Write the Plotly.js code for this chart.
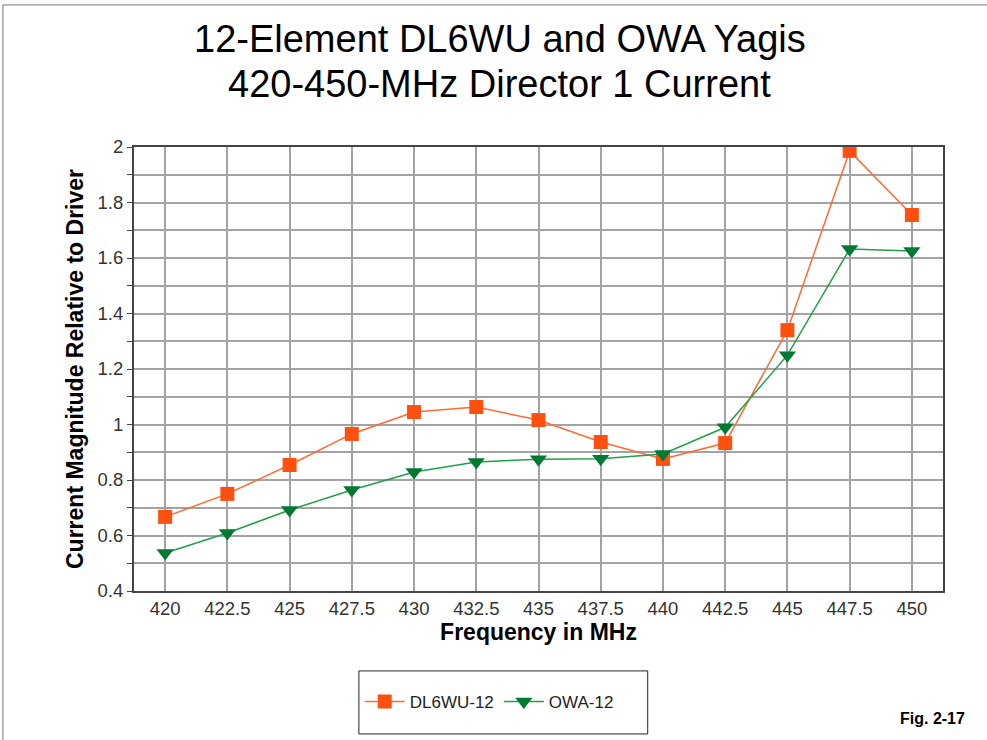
<!DOCTYPE html>
<html>
<head>
<meta charset="utf-8">
<script src="https://cdn.plot.ly/plotly-3.0.1.min.js"></script>
<style>
  body { margin: 0; background: #fff; }
  #chart { width: 987px; height: 740px; }
</style>
</head>
<body>
<div id="chart"></div>
<script>
var freqs = [420, 422.5, 425, 427.5, 430, 432.5, 435, 437.5, 440, 442.5, 445, 447.5, 450];
var dl6wu = [0.667, 0.75, 0.854, 0.966, 1.045, 1.063, 1.016, 0.937, 0.876, 0.933, 1.34, 1.986, 1.755];
var owa = [0.537, 0.609, 0.692, 0.764, 0.829, 0.865, 0.875, 0.877, 0.894, 0.99, 1.25, 1.632, 1.625];
var yTicks = [0.4, 0.6, 0.8, 1, 1.2, 1.4, 1.6, 1.8, 2];
var titleLines = ['12-Element DL6WU and OWA Yagis', '420-450-MHz Director 1 Current'];

var traces = [
  {
    x: freqs, y: dl6wu, name: 'DL6WU-12',
    type: 'scatter', mode: 'lines+markers',
    line: { color: '#ff6a33', width: 1.5 },
    marker: { symbol: 'square', size: 14, color: '#ff5010' }
  },
  {
    x: freqs, y: owa, name: 'OWA-12',
    type: 'scatter', mode: 'lines+markers',
    line: { color: '#21a04a', width: 1.5 },
    marker: { symbol: 'triangle-down', size: 15, color: '#007a33' }
  }
];

var layout = {
  width: 987,
  height: 740,
  paper_bgcolor: '#fff',
  plot_bgcolor: '#fff',
  margin: { l: 134, r: 44, t: 147, b: 149 },
  font: { family: 'Arial, Liberation Sans, sans-serif', color: '#000' },
  xaxis: {
    range: [418.75, 451.25],
    tickvals: freqs,
    ticktext: freqs.map(String),
    showgrid: true, gridcolor: '#a3a3a3', gridwidth: 1.5,
    showline: true, linecolor: '#444', linewidth: 2, mirror: true,
    zeroline: false,
    ticks: '',
    tickfont: { size: 18.5, color: '#333' },
    title: { text: '<b>Frequency in MHz</b>', font: { size: 23 }, standoff: 5 }
  },
  yaxis: {
    range: [0.4, 2],
    tickvals: yTicks,
    ticktext: yTicks.map(String),
    showgrid: true, gridcolor: '#a3a3a3', gridwidth: 1.5,
    showline: true, linecolor: '#444', linewidth: 2, mirror: true,
    zeroline: false,
    ticks: 'outside', ticklen: 5, tickcolor: '#444',
    tickfont: { size: 18.5, color: '#333' },
    minor: { dtick: 0.1, showgrid: true, gridcolor: '#a3a3a3', gridwidth: 1.5, ticks: 'outside', ticklen: 5, tickcolor: '#444' },
    title: { text: '<b>Current Magnitude Relative to Driver</b>', font: { size: 23 }, standoff: 8 }
  },
  showlegend: true,
  legend: {
    orientation: 'h',
    x: 0.279, xanchor: 'left',
    y: -0.25, yanchor: 'middle',
    borderwidth: 0,
    bgcolor: 'rgba(0,0,0,0)',
    font: { size: 17, color: '#222' },
    itemwidth: 40
  },
  shapes: [
    {
      type: 'rect', xref: 'paper', yref: 'paper',
      x0: -0.162, x1: 1.2, y0: -0.5, y1: 1.32,
      line: { color: '#777', width: 1 }, layer: 'below'
    },
    {
      type: 'rect', xref: 'paper', yref: 'paper',
      x0: 0.278, x1: 0.635, y0: -0.322, y1: -0.180,
      line: { color: '#222', width: 1 }, layer: 'below'
    }
  ],
  annotations: [
    {
      xref: 'paper', yref: 'paper',
      x: 0.452, y: 1.243, xanchor: 'center', yanchor: 'middle',
      text: titleLines[0], showarrow: false,
      font: { size: 38, color: '#000' }
    },
    {
      xref: 'paper', yref: 'paper',
      x: 0.452, y: 1.142, xanchor: 'center', yanchor: 'middle',
      text: titleLines[1], showarrow: false,
      font: { size: 38, color: '#000' }
    },
    {
      xref: 'paper', yref: 'paper',
      x: 1.03, y: -0.288, xanchor: 'right', yanchor: 'middle',
      text: '<b>Fig. 2-17</b>', showarrow: false,
      font: { size: 16, color: '#000' }
    }
  ]
};

Plotly.newPlot('chart', traces, layout, { displayModeBar: false });
</script>
</body>
</html>
